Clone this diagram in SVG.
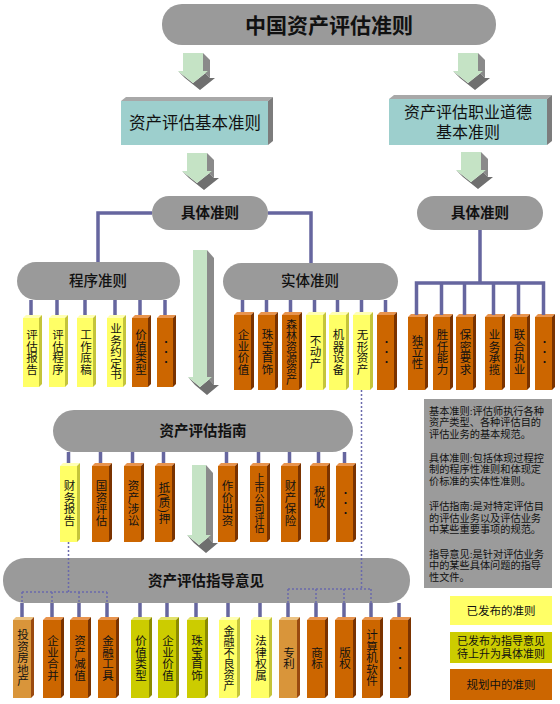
<svg xmlns="http://www.w3.org/2000/svg" width="560" height="704" viewBox="0 0 560 704">
<style>
text{font-family:'Liberation Serif','Noto Sans CJK SC',serif;fill:#111}
.pill{fill:#9a9a9a}
.pl{font-family:'Liberation Sans','Noto Sans CJK SC',sans-serif;font-size:14.5px;font-weight:bold;text-anchor:middle;dominant-baseline:central}
.pm{font-weight:500}
.teal .f{fill:#9dcfcd}.teal .t{fill:#a8a8a8}.teal .s{fill:#7c7c7c}
.tl{font-size:16.5px;text-anchor:middle;dominant-baseline:central}
.v{writing-mode:vertical-rl;text-anchor:middle;dominant-baseline:central;font-size:11.5px}
.o .f{fill:#cc6600}.o .t{fill:#e8944e}.o .s{fill:#7a3300}
.y .f{fill:#ffff66}.y .t{fill:#ffffb4}.y .s{fill:#c4c43a}
.g .f{fill:#cccc00}.g .t{fill:#e2e26a}.g .s{fill:#8c8c00}
.n .f{fill:#d9953a}.n .t{fill:#ecc383}.n .s{fill:#9a4a10}
.ag{fill:#c5e3c5}.as{fill:#8a8a8a}.ah{fill:#6f6f6f}
.ln{fill:none;stroke:#66669f;stroke-width:3.5}
.dt{fill:none;stroke:#6a6aac;stroke-width:1.5;stroke-dasharray:2 2}
.nt{font-size:10.2px}
.lg{font-size:11.5px;text-anchor:middle;dominant-baseline:central}
.dots{font-size:10px}
</style>

<!-- top -->
<g id="n-root">
<rect class="pill" x="162" y="4" width="334" height="41" rx="20"/>
<text class="pl" x="329" y="25" style="font-size:21px">中国资产评估准则</text>
</g>

<g id="n-basic" class="teal">
<rect class="f" x="121" y="101" width="147" height="44"/>
<path class="t" d="M121,101L126,97H273L268,101Z"/>
<path class="s" d="M268,101L273,97V141L268,145Z"/>
<text class="tl" x="195" y="123">资产评估基本准则</text>
</g>

<g id="n-ethic" class="teal">
<rect class="f" x="389" y="99" width="158" height="46"/>
<path class="t" d="M389,99L394,95H552L547,99Z"/>
<path class="s" d="M547,99L552,95V141L547,145Z"/>
<text class="tl" x="468" y="112" style="font-size:16px">资产评估职业道德</text>
<text class="tl" x="468" y="132" style="font-size:16px">基本准则</text>
</g>

<g id="n-spec-l"><rect class="pill" x="152" y="196" width="116" height="34" rx="17"/><text class="pl" x="210" y="213">具体准则</text></g>
<g id="n-spec-r"><rect class="pill" x="417" y="196" width="126" height="34" rx="17"/><text class="pl" x="480" y="213">具体准则</text></g>
<g id="n-proc"><rect class="pill" x="17" y="262" width="163" height="38" rx="19"/><text class="pl pm" x="98" y="281">程序准则</text></g>
<g id="n-ent"><rect class="pill" x="223" y="263" width="175" height="37" rx="18.5"/><text class="pl pm" x="310" y="281">实体准则</text></g>
<g id="n-guide"><rect class="pill" x="53" y="410" width="300" height="42" rx="21"/><text class="pl" x="203" y="431">资产评估指南</text></g>
<g id="n-opin"><rect class="pill" x="3" y="558" width="407" height="45" rx="22"/><text class="pl" x="206" y="581">资产评估指导意见</text></g>

<!-- program boxes -->
<g id="p1" class="y" transform="translate(23,315)"><rect class="f" y="3" width="16" height="69"/><path class="t" d="M0,3L3,0H19L16,3Z"/><path class="s" d="M16,3L19,0V69L16,72Z"/><text class="v" x="8" y="37">评估报告</text></g>
<g id="p2" class="y" transform="translate(49,315)"><rect class="f" y="3" width="16" height="69"/><path class="t" d="M0,3L3,0H19L16,3Z"/><path class="s" d="M16,3L19,0V69L16,72Z"/><text class="v" x="8" y="37">评估程序</text></g>
<g id="p3" class="y" transform="translate(77,315)"><rect class="f" y="3" width="16" height="69"/><path class="t" d="M0,3L3,0H19L16,3Z"/><path class="s" d="M16,3L19,0V69L16,72Z"/><text class="v" x="8" y="37">工作底稿</text></g>
<g id="p4" class="y" transform="translate(107,315)"><rect class="f" y="3" width="16" height="69"/><path class="t" d="M0,3L3,0H19L16,3Z"/><path class="s" d="M16,3L19,0V69L16,72Z"/><text class="v" x="8" y="37">业务约定书</text></g>
<g id="p5" class="o" transform="translate(132,315)"><rect class="f" y="3" width="16" height="69"/><path class="t" d="M0,3L3,0H19L16,3Z"/><path class="s" d="M16,3L19,0V69L16,72Z"/><text class="v" x="8" y="37">价值类型</text></g>
<g id="p6" class="o" transform="translate(157,315)"><rect class="f" y="3" width="16" height="69"/><path class="t" d="M0,3L3,0H19L16,3Z"/><path class="s" d="M16,3L19,0V69L16,72Z"/><text class="v dots" x="8" y="37">・・・</text></g>

<!-- entity boxes -->
<g id="e1" class="o" transform="translate(234,312)"><rect class="f" y="3" width="17" height="75"/><path class="t" d="M0,3L3,0H20L17,3Z"/><path class="s" d="M17,3L20,0V75L17,78Z"/><text class="v" x="8.5" y="40">企业价值</text></g>
<g id="e2" class="o" transform="translate(258,312)"><rect class="f" y="3" width="17" height="75"/><path class="t" d="M0,3L3,0H20L17,3Z"/><path class="s" d="M17,3L20,0V75L17,78Z"/><text class="v" x="8.5" y="40">珠宝首饰</text></g>
<g id="e3" class="o" transform="translate(282,312)"><rect class="f" y="3" width="17" height="75"/><path class="t" d="M0,3L3,0H20L17,3Z"/><path class="s" d="M17,3L20,0V75L17,78Z"/><text class="v" x="8.5" y="40" style="font-size:11px">森林资源资产</text></g>
<g id="e4" class="y" transform="translate(306,312)"><rect class="f" y="3" width="17" height="75"/><path class="t" d="M0,3L3,0H20L17,3Z"/><path class="s" d="M17,3L20,0V75L17,78Z"/><text class="v" x="8.5" y="40">不动产</text></g>
<g id="e5" class="y" transform="translate(329,312)"><rect class="f" y="3" width="17" height="75"/><path class="t" d="M0,3L3,0H20L17,3Z"/><path class="s" d="M17,3L20,0V75L17,78Z"/><text class="v" x="8.5" y="40">机器设备</text></g>
<g id="e6" class="y" transform="translate(353,312)"><rect class="f" y="3" width="17" height="75"/><path class="t" d="M0,3L3,0H20L17,3Z"/><path class="s" d="M17,3L20,0V75L17,78Z"/><text class="v" x="8.5" y="40">无形资产</text></g>
<g id="e7" class="o" transform="translate(377,312)"><rect class="f" y="3" width="17" height="75"/><path class="t" d="M0,3L3,0H20L17,3Z"/><path class="s" d="M17,3L20,0V75L17,78Z"/><text class="v dots" x="8.5" y="40">・・・</text></g>

<!-- ethics boxes -->
<g id="r1" class="o" transform="translate(408,314)"><rect class="f" y="3" width="17" height="73"/><path class="t" d="M0,3L3,0H20L17,3Z"/><path class="s" d="M17,3L20,0V73L17,76Z"/><text class="v" x="8.5" y="38">独立性</text></g>
<g id="r2" class="o" transform="translate(433,314)"><rect class="f" y="3" width="17" height="73"/><path class="t" d="M0,3L3,0H20L17,3Z"/><path class="s" d="M17,3L20,0V73L17,76Z"/><text class="v" x="8.5" y="38">胜任能力</text></g>
<g id="r3" class="o" transform="translate(456,314)"><rect class="f" y="3" width="17" height="73"/><path class="t" d="M0,3L3,0H20L17,3Z"/><path class="s" d="M17,3L20,0V73L17,76Z"/><text class="v" x="8.5" y="38">保密要求</text></g>
<g id="r4" class="o" transform="translate(485,314)"><rect class="f" y="3" width="17" height="73"/><path class="t" d="M0,3L3,0H20L17,3Z"/><path class="s" d="M17,3L20,0V73L17,76Z"/><text class="v" x="8.5" y="38">业务承揽</text></g>
<g id="r5" class="o" transform="translate(510,314)"><rect class="f" y="3" width="17" height="73"/><path class="t" d="M0,3L3,0H20L17,3Z"/><path class="s" d="M17,3L20,0V73L17,76Z"/><text class="v" x="8.5" y="38">联合执业</text></g>
<g id="r6" class="o" transform="translate(535,314)"><rect class="f" y="3" width="17" height="73"/><path class="t" d="M0,3L3,0H20L17,3Z"/><path class="s" d="M17,3L20,0V73L17,76Z"/><text class="v dots" x="8.5" y="38">・・・</text></g>

<!-- guide boxes -->
<g id="g1" class="y" transform="translate(60,463)"><rect class="f" y="3" width="17" height="76"/><path class="t" d="M0,3L3,0H20L17,3Z"/><path class="s" d="M17,3L20,0V76L17,79Z"/><text class="v" x="8.5" y="40">财务报告</text></g>
<g id="g2" class="o" transform="translate(92,463)"><rect class="f" y="3" width="17" height="76"/><path class="t" d="M0,3L3,0H20L17,3Z"/><path class="s" d="M17,3L20,0V76L17,79Z"/><text class="v" x="8.5" y="40">国资评估</text></g>
<g id="g3" class="o" transform="translate(124,463)"><rect class="f" y="3" width="17" height="76"/><path class="t" d="M0,3L3,0H20L17,3Z"/><path class="s" d="M17,3L20,0V76L17,79Z"/><text class="v" x="8.5" y="40">资产涉讼</text></g>
<g id="g4" class="o" transform="translate(155,463)"><rect class="f" y="3" width="17" height="76"/><path class="t" d="M0,3L3,0H20L17,3Z"/><path class="s" d="M17,3L20,0V76L17,79Z"/><text class="v" x="8.5" y="40">抵(质)押</text></g>
<g id="g5" class="o" transform="translate(218,463)"><rect class="f" y="3" width="17" height="76"/><path class="t" d="M0,3L3,0H20L17,3Z"/><path class="s" d="M17,3L20,0V76L17,79Z"/><text class="v" x="8.5" y="40">作价出资</text></g>
<g id="g6" class="o" transform="translate(250,463)"><rect class="f" y="3" width="17" height="76"/><path class="t" d="M0,3L3,0H20L17,3Z"/><path class="s" d="M17,3L20,0V76L17,79Z"/><text class="v" x="8.5" y="40" style="font-size:10px">上市公司评估</text></g>
<g id="g7" class="o" transform="translate(281,463)"><rect class="f" y="3" width="17" height="76"/><path class="t" d="M0,3L3,0H20L17,3Z"/><path class="s" d="M17,3L20,0V76L17,79Z"/><text class="v" x="8.5" y="40">财产保险</text></g>
<g id="g8" class="o" transform="translate(310,463)"><rect class="f" y="3" width="17" height="76"/><path class="t" d="M0,3L3,0H20L17,3Z"/><path class="s" d="M17,3L20,0V76L17,79Z"/><text class="v" x="8.5" y="34">税收</text></g>
<g id="g9" class="o" transform="translate(336,463)"><rect class="f" y="3" width="17" height="76"/><path class="t" d="M0,3L3,0H20L17,3Z"/><path class="s" d="M17,3L20,0V76L17,79Z"/><text class="v dots" x="8.5" y="40">・・・</text></g>

<!-- opinion boxes -->
<g id="o1" class="n" transform="translate(13,617)"><rect class="f" y="3" width="18" height="78"/><path class="t" d="M0,3L3,0H21L18,3Z"/><path class="s" d="M18,3L21,0V78L18,81Z"/><text class="v" x="9" y="41">投资房地产</text></g>
<g id="o2" class="o" transform="translate(43,617)"><rect class="f" y="3" width="18" height="78"/><path class="t" d="M0,3L3,0H21L18,3Z"/><path class="s" d="M18,3L21,0V78L18,81Z"/><text class="v" x="9" y="41">企业合并</text></g>
<g id="o3" class="o" transform="translate(70,617)"><rect class="f" y="3" width="18" height="78"/><path class="t" d="M0,3L3,0H21L18,3Z"/><path class="s" d="M18,3L21,0V78L18,81Z"/><text class="v" x="9" y="41">资产减值</text></g>
<g id="o4" class="o" transform="translate(98,617)"><rect class="f" y="3" width="18" height="78"/><path class="t" d="M0,3L3,0H21L18,3Z"/><path class="s" d="M18,3L21,0V78L18,81Z"/><text class="v" x="9" y="41">金融工具</text></g>
<g id="o5" class="g" transform="translate(131,617)"><rect class="f" y="3" width="18" height="78"/><path class="t" d="M0,3L3,0H21L18,3Z"/><path class="s" d="M18,3L21,0V78L18,81Z"/><text class="v" x="9" y="41">价值类型</text></g>
<g id="o6" class="g" transform="translate(158,617)"><rect class="f" y="3" width="18" height="78"/><path class="t" d="M0,3L3,0H21L18,3Z"/><path class="s" d="M18,3L21,0V78L18,81Z"/><text class="v" x="9" y="41">企业价值</text></g>
<g id="o7" class="g" transform="translate(187,617)"><rect class="f" y="3" width="18" height="78"/><path class="t" d="M0,3L3,0H21L18,3Z"/><path class="s" d="M18,3L21,0V78L18,81Z"/><text class="v" x="9" y="41">珠宝首饰</text></g>
<g id="o8" class="y" transform="translate(219,617)"><rect class="f" y="3" width="18" height="78"/><path class="t" d="M0,3L3,0H21L18,3Z"/><path class="s" d="M18,3L21,0V78L18,81Z"/><text class="v" x="9" y="41" style="font-size:11px">金融不良资产</text></g>
<g id="o9" class="y" transform="translate(251,617)"><rect class="f" y="3" width="18" height="78"/><path class="t" d="M0,3L3,0H21L18,3Z"/><path class="s" d="M18,3L21,0V78L18,81Z"/><text class="v" x="9" y="41">法律权属</text></g>
<g id="o10" class="n" transform="translate(279,617)"><rect class="f" y="3" width="18" height="78"/><path class="t" d="M0,3L3,0H21L18,3Z"/><path class="s" d="M18,3L21,0V78L18,81Z"/><text class="v" x="9" y="41">专利</text></g>
<g id="o11" class="o" transform="translate(307,617)"><rect class="f" y="3" width="18" height="78"/><path class="t" d="M0,3L3,0H21L18,3Z"/><path class="s" d="M18,3L21,0V78L18,81Z"/><text class="v" x="9" y="41">商标</text></g>
<g id="o12" class="o" transform="translate(335,617)"><rect class="f" y="3" width="18" height="78"/><path class="t" d="M0,3L3,0H21L18,3Z"/><path class="s" d="M18,3L21,0V78L18,81Z"/><text class="v" x="9" y="41">版权</text></g>
<g id="o13" class="o" transform="translate(362,617)"><rect class="f" y="3" width="18" height="78"/><path class="t" d="M0,3L3,0H21L18,3Z"/><path class="s" d="M18,3L21,0V78L18,81Z"/><text class="v" x="9" y="41">计算机软件</text></g>
<g id="o14" class="o" transform="translate(390,617)"><rect class="f" y="3" width="18" height="78"/><path class="t" d="M0,3L3,0H21L18,3Z"/><path class="s" d="M18,3L21,0V78L18,81Z"/><text class="v dots" x="9" y="41">・・・</text></g>

<!-- notes -->
<g id="notes">
<rect x="424" y="399" width="128" height="189" fill="#9b9b9b"/>
<text class="nt" x="429" y="414.5">基本准则:评估师执行各种</text>
<text class="nt" x="429" y="426">资产类型、各种评估目的</text>
<text class="nt" x="429" y="437.5">评估业务的基本规范。</text>
<text class="nt" x="429" y="461.5">具体准则:包括体现过程控</text>
<text class="nt" x="429" y="473">制的程序性准则和体现定</text>
<text class="nt" x="429" y="484.5">价标准的实体性准则。</text>
<text class="nt" x="429" y="510">评估指南:是对特定评估目</text>
<text class="nt" x="429" y="521.5">的评估业务以及评估业务</text>
<text class="nt" x="429" y="533">中某些重要事项的规范。</text>
<text class="nt" x="429" y="557.5">指导意见:是针对评估业务</text>
<text class="nt" x="429" y="569">中的某些具体问题的指导</text>
<text class="nt" x="429" y="580.5">性文件。</text>
</g>

<!-- legend -->
<g id="leg1"><rect x="450" y="596" width="102" height="29" fill="#ffff66"/><text class="lg" x="501" y="611">已发布的准则</text></g>
<g id="leg2"><rect x="450" y="632" width="102" height="31" fill="#cccc00"/><text class="lg" x="501" y="641" style="font-size:11px">已发布为指导意见</text><text class="lg" x="501" y="653.5" style="font-size:11px">待上升为具体准则</text></g>
<g id="leg3"><rect x="450" y="669" width="102" height="31" fill="#cc6600"/><text class="lg" x="501" y="685">规划中的准则</text></g>

<!-- connectors -->
<g id="connectors">
<g id="arrows">
<g transform="translate(183,53)"><path class="as" d="M20,0L27,7V25L20,18Z"/><path class="ah" d="M20,18L25,18L32,25L27,25ZM25,18L10,30L17,37L32,25ZM-5,18L10,30L17,37L2,25Z"/><path class="ag" d="M0,0H20V18H25L10,30L-5,18H0Z"/></g>
<g transform="translate(458,53)"><path class="as" d="M20,0L27,7V25L20,18Z"/><path class="ah" d="M20,18L25,18L32,25L27,25ZM25,18L10,30L17,37L32,25ZM-5,18L10,30L17,37L2,25Z"/><path class="ag" d="M0,0H20V18H25L10,30L-5,18H0Z"/></g>
<g transform="translate(187,153)"><path class="as" d="M20,0L27,7V25L20,18Z"/><path class="ah" d="M20,18L25,18L32,25L27,25ZM25,18L10,30L17,37L32,25ZM-5,18L10,30L17,37L2,25Z"/><path class="ag" d="M0,0H20V18H25L10,30L-5,18H0Z"/></g>
<g transform="translate(461,152)"><path class="as" d="M20,0L27,7V25L20,18Z"/><path class="ah" d="M20,18L25,18L32,25L27,25ZM25,18L10,30L17,37L32,25ZM-5,18L10,30L17,37L2,25Z"/><path class="ag" d="M0,0H20V18H25L10,30L-5,18H0Z"/></g>
<g transform="translate(193,250)"><path class="as" d="M14,0L21,8V135L14,127Z"/><path class="ah" d="M14,127L19,127L26,135L21,135ZM19,127L7,137L14,145L26,135ZM-5,127L7,137L14,145L2,135Z"/><path class="ag" d="M0,0H14V127H19L7,137L-5,127H0Z"/></g>
<g transform="translate(192,465)"><path class="as" d="M14,0L21,8V78L14,70Z"/><path class="ah" d="M14,70L19,70L26,78L21,78ZM19,70L7,80L14,88L26,78ZM-5,70L7,80L14,88L2,78Z"/><path class="ag" d="M0,0H14V70H19L7,80L-5,70H0Z"/></g>
</g>
<path class="ln" d="M152,213H98V262M268,213H311V263"/>
<path class="ln" d="M480,230V283M416.5,315V283H543.5V315M441.5,283V315M464.5,283V315M493.5,283V315M518.5,283V315"/>
<path class="ln" d="M31,300V315M57,300V315M85,300V315M115,300V315M140,300V315M165,300V315"/>
<path class="ln" d="M242.5,300V312M266.5,300V312M290.5,300V312M314.5,300V312M337.5,300V312M361.5,300V312M385.5,300V312"/>
<path class="ln" d="M68.5,452V463M100.5,452V463M132.5,452V463M163.5,452V463M226.5,452V463M258.5,452V463M289.5,452V463M318.5,452V463M344.5,452V463"/>
<path class="ln" d="M22,603V617M52,603V617M79,603V617M107,603V617M140,603V617M167,603V617M196,603V617M228,603V617M260,603V617M288,603V617M316,603V617M344,603V617M371,603V617M399,603V617"/>
<path class="dt" d="M68.5,542V592M22,592H107M22,592V603M52,592V603M79,592V603M107,592V603"/>
<path class="dt" d="M361.5,390V589M288,589H371M288,589V603M316,589V603M344,589V603M371,589V603"/>
</g>
</svg>
